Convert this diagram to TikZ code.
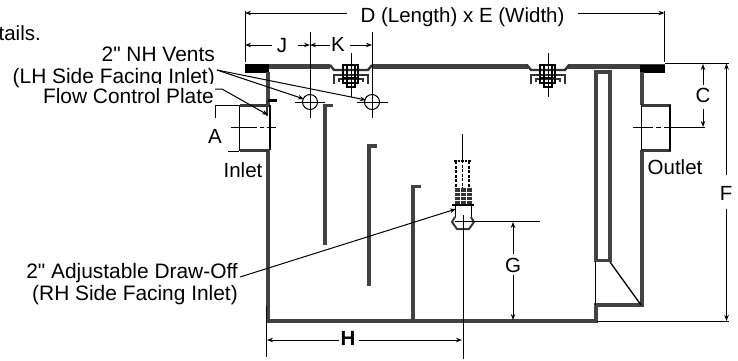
\documentclass[tikz,border=0pt]{standalone}
\usepackage{fontspec}
\setmainfont[Ligatures=TeXOff]{Liberation Sans}
\usetikzlibrary{arrows.meta, positioning}

\tikzset{
	wall/.style={line width=3.2pt, color=black!74, line cap=butt, line join=miter},
	thinwall/.style={line width=2.5pt, color=black!78},
	cover/.style={line width=5pt, color=black!75},
	bracket/.style={line width=2.4pt, color=black!80},
	dimline/.style={line width=1pt},
	pipeline/.style={line width=1.1pt},
	dimarrow/.style={line width=1pt, -{Stealth[length=6pt, width=4.5pt]}},
	label/.style={font=\fontsize{20.5}{21}\selectfont, inner sep=0pt},
	leftlabel/.style={font=\fontsize{20.9}{22}\selectfont, inner sep=0pt, anchor=base east},
	drawoff/.style={line width=1.1pt, dash pattern=on 3pt off 1.5pt}
}

\begin{document}
\begin{tikzpicture}[x=1pt, y=-1pt]
	\useasboundingbox (0,0) rectangle (738,360);

	% Draw the text on the left
	\node[label, anchor=base east] (Tails) at (41,40) {tails.};
	\node[leftlabel] (Vents) at (215,61) {2" NH Vents};
	\node[leftlabel] (Side) at (215,83) {(LH Side Facing Inlet)};
	\node[leftlabel, fill=white, text height=19pt] (Plate) at (214,103) {Flow Control Plate};
	\node[leftlabel] (Draw) at (238,278) {2" Adjustable Draw-Off};
	\node[leftlabel] (Facing) at (238,300) {(RH Side Facing Inlet)};
	\node[label, anchor=base] (Inlet) at (243,177) {Inlet};
	\node[label, anchor=base] (Outlet) at (675,174) {Outlet};

	% Draw the cover
	\draw[cover] (245,66) -- (330,66);
	\draw[cover] (372,66) -- (528,66);
	\draw[cover] (568,66) -- (665,66);
	\fill[black] (245,63.5) rectangle (269,73);
	\fill[black] (640,65) rectangle (665,73);

	% Draw the tank
	\draw[wall] (268,72) -- (268,106);
	\draw[wall] (268,150) -- (268,321) -- (596,321) -- (596,305) -- (642,305) -- (642,150);
	\draw[wall] (642,72) -- (642,105);

	% Draw the inlet and the outlet
	\draw[thinwall] (240,105.5) -- (269,105.5);
	\draw[thinwall] (240,150.5) -- (269,150.5);
	\draw[thinwall] (641,105.5) -- (671,105.5);
	\draw[thinwall] (641,150.5) -- (671,150.5);
	\draw[pipeline] (239.5,105) -- (239.5,151);
	\draw[pipeline] (670,105) -- (670,151);
	\draw[pipeline] (641.5,105) -- (641.5,151);
	\draw[pipeline] (270,105) -- (270,150);
	\draw[line width=3pt] (268,100) -- (277,100);
	\draw[line width=2pt, color=black!78] (266.5,100) -- (266.5,116);

	% Draw the baffles
	\draw[wall] (325,245) -- (325,105.5) -- (333,105.5);
	\draw[wall] (369,286) -- (369,146) -- (377,146);
	\draw[wall] (413,321) -- (413,186.5) -- (421,186.5);

	% Draw the tube on the right
	\draw[wall] (596,262) -- (596,72) -- (610,72) -- (610,262);
	\draw[wall] (596,260.5) -- (610,260.5);
	\draw[pipeline] (595.5,262) -- (595.5,305);
	\draw[line width=1.3pt] (610,262) -- (641,305);

	% Draw the first fitting
	\draw[bracket] (330,65) -- (334,70) -- (368,70) -- (372,65);
	\draw[bracket] (334,84) -- (334,75) -- (368,75) -- (368,84);
	\draw[bracket] (339,82) -- (339,79) -- (363,79) -- (363,82);
	\draw[line width=1.2pt] (343,65) rectangle (358,78);
	\draw[line width=1.2pt] (347,65) rectangle (355,87);
	\draw[line width=1.2pt] (343,78) rectangle (358,83);
	\draw[line width=1pt] (351,53) -- (351,97);

	% Draw the second fitting
	\draw[bracket] (527,65) -- (531,70) -- (565,70) -- (569,65);
	\draw[bracket] (531,84) -- (531,75) -- (565,75) -- (565,84);
	\draw[bracket] (536,82) -- (536,79) -- (560,79) -- (560,82);
	\draw[line width=1.2pt] (540,65) rectangle (555,78);
	\draw[line width=1.2pt] (544,65) rectangle (552,87);
	\draw[line width=1.2pt] (540,78) rectangle (555,83);
	\draw[line width=1pt] (548,53) -- (548,97);

	% Draw the vents
	\node[draw, circle, line width=1pt, minimum size=15pt, inner sep=0pt] (VentA) at (310,102) {};
	\node[draw, circle, line width=1pt, minimum size=15pt, inner sep=0pt] (VentB) at (372,102) {};
	\draw[dimline] (295,102) -- (325,102);
	\draw[dimline] (357,102) -- (388,102);
	\draw[dimline] (310,32) -- (310,118);
	\draw[dimline] (372,32) -- (372,118);

	% Draw the draw-off
	\draw[drawoff] (456,161) -- (456,188);
	\draw[drawoff] (469,161) -- (469,188);
	\draw[line width=2pt, dash pattern=on 2.5pt off 1pt] (454,161) -- (471,161);
	\draw[line width=1pt] (462.5,134) -- (462.5,160);
	\draw[drawoff] (462.5,160) -- (462.5,188);
	\fill[black!80] (455,188) rectangle (472,204);
	\draw[white, line width=0.6pt] (455,192) -- (472,192) (455,196) -- (472,196) (455,200) -- (472,200) (460,188) -- (460,204) (466,188) -- (466,204);
	\draw[line width=2.6pt] (452,205) -- (474,205);
	\draw[line width=1pt] (455,205) -- (455,217);
	\draw[line width=1pt] (471,205) -- (471,217);
	\draw[line width=2pt, color=black!78] (455,217) -- (452,222) -- (457,229) -- (469,229) -- (474,222) -- (471,217);
	\draw[line width=1pt] (463,215) -- (463,359);
	\draw[line width=1pt] (455,221) -- (473,221);

	% Draw the leader lines
	\coordinate (SideEnd) at (217,70);
	\coordinate (PlateEnd) at (215,89);
	\coordinate (DrawEnd) at (240,277);
	\draw[dimarrow] (SideEnd) -- (304,99);
	\draw[dimarrow] (SideEnd) -- (366,100);
	\draw[dimarrow] (PlateEnd) -- (222,89) -- (268,115);
	\draw[dimarrow] (DrawEnd) -- (456,209);

	% Draw the dimension D
	\draw[dimarrow] (347,13) -- (245,13);
	\draw[dimarrow] (578,13) -- (664.5,13);
	\draw[dimline] (245,11) -- (245,62);
	\draw[dimline] (664.5,11) -- (664.5,62);
	\node[label, anchor=base] (Dtext) at (462.5,22) {D (Length) x E (Width)};

	% Draw the dimensions J and K
	\node[label, anchor=base] (Jtext) at (282,52) {J};
	\node[label, anchor=base] (Ktext) at (338,51) {K};
	\draw[dimarrow] (272,45) -- (245,45);
	\draw[dimarrow] (298,45) -- (310,45);
	\draw[dimarrow] (330,45) -- (310,45);
	\draw[dimarrow] (350,45) -- (372,45);

	% Draw the dimension A
	\node[label, anchor=base] (Atext) at (215,143) {A};
	\draw[dimline] (215,118) -- (215,105) -- (240,105);
	\draw[dimline] (228,151) -- (239,151);
	\draw[dimline, dash pattern=on 26pt off 3pt on 4pt off 3pt on 10pt] (231,127.5) -- (276,127.5);

	% Draw the dimensions C and F
	\node[label, anchor=base] (Ctext) at (703,102) {C};
	\node[label, anchor=base] (Ftext) at (726,200) {F};
	\draw[dimline] (665,63) -- (729,63);
	\draw[dimline, dash pattern=on 20pt off 3pt on 5pt off 3pt on 42pt] (633,127.5) -- (705,127.5);
	\draw[dimline] (597,321.5) -- (729,321.5);
	\draw[dimarrow] (703,85) -- (703,64);
	\draw[dimarrow] (703,109) -- (703,127);
	\draw[dimarrow] (726.5,175) -- (726.5,63.5);
	\draw[dimarrow] (726.5,209) -- (726.5,321);

	% Draw the dimension G
	\node[label, anchor=base] (Gtext) at (513,272) {G};
	\draw[dimline] (473,221) -- (540,221);
	\draw[dimarrow] (513,254) -- (513,222);
	\draw[dimarrow] (513,275) -- (513,320);

	% Draw the dimension H
	\node[label, anchor=base, draw=none] (Htext) at (348,345) {\textbf{H}};
	\draw[dimline] (266.5,306) -- (266.5,357);
	\draw[dimarrow] (339,340) -- (267,340);
	\draw[dimarrow] (359,340) -- (462,340);
\end{tikzpicture}
\end{document}
